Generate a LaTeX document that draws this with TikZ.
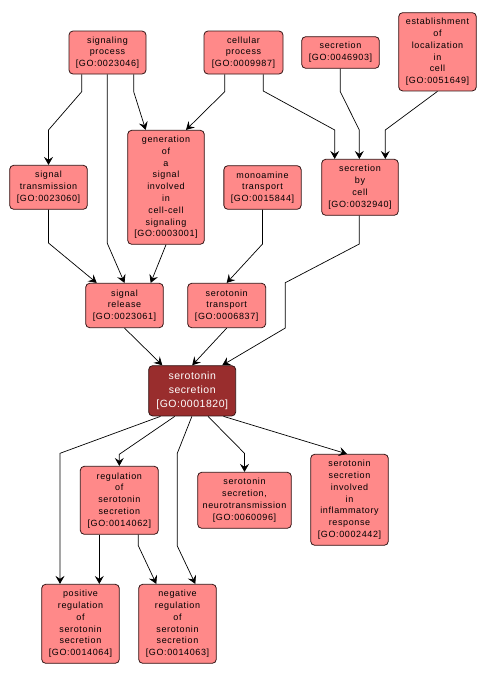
\documentclass[tikz,border=0pt]{standalone}
\usepackage{fontspec}
\setmainfont{Liberation Sans}[LetterSpace=7]
\newfontfamily\bigfont{Liberation Sans}[LetterSpace=5]
\usetikzlibrary{arrows.meta}
\definecolor{salmon}{RGB}{255,137,137}
\definecolor{darkred}{RGB}{153,45,45}
\definecolor{edgeline}{RGB}{50,20,20}
\tikzset{
  gobox/.style={draw=edgeline, line width=0.8pt, fill=salmon, rounded corners=4pt,
    inner sep=0pt, align=center, font=\fontsize{9}{11.8}\selectfont, text=black},
  mainbox/.style={gobox, fill=darkred, text=white, font=\bigfont\fontsize{10.5}{14.3}\selectfont},
  link/.style={draw=black, line width=0.7pt, -{Stealth[length=8pt,width=9pt,inset=3pt]}}
}
\begin{document}
\begin{tikzpicture}[x=1pt,y=-1pt]
\useasboundingbox[fill=white] (0,0) rectangle (487,678);
% nodes
\node[gobox, minimum width=77pt, minimum height=43pt] (sp) at (107.5,52.5) {signaling\\process\\{[GO:0023046]}};
\node[gobox, minimum width=79pt, minimum height=43pt] (cp) at (243.5,52.5) {cellular\\process\\{[GO:0009987]}};
\node[gobox, minimum width=77.6pt, minimum height=31.6pt] (sec) at (340.5,52.5) {secretion\\{[GO:0046903]}};
\node[gobox, minimum width=77.6pt, minimum height=78.3pt] (est) at (437.5,51.8) {establishment\\of\\localization\\in\\cell\\{[GO:0051649]}};
\node[gobox, minimum width=77.6pt, minimum height=44pt] (st) at (48.5,187.3) {signal\\transmission\\{[GO:0023060]}};
\node[gobox, minimum width=76.6pt, minimum height=114pt] (gen) at (166,187.3) {generation\\of\\a\\signal\\involved\\in\\cell-cell\\signaling\\{[GO:0003001]}};
\node[gobox, minimum width=77.3pt, minimum height=43.6pt] (mt) at (262.5,187.5) {monoamine\\transport\\{[GO:0015844]}};
\node[gobox, minimum width=76.6pt, minimum height=56pt] (sbc) at (360,187.3) {secretion\\by\\cell\\{[GO:0032940]}};
\node[gobox, minimum width=77.6pt, minimum height=44.4pt] (sr) at (124.5,305.5) {signal\\release\\{[GO:0023061]}};
\node[gobox, minimum width=78pt, minimum height=44.4pt] (stp) at (226.7,305.5) {serotonin\\transport\\{[GO:0006837]}};
\node[mainbox, minimum width=87pt, minimum height=50.3pt] (ss) at (192.2,390.8) {serotonin\\secretion\\{[GO:0001820]}};
\node[gobox, minimum width=78pt, minimum height=68pt] (reg) at (119.3,500.3) {regulation\\of\\serotonin\\secretion\\{[GO:0014062]}};
\node[gobox, minimum width=93.6pt, minimum height=56pt] (nt) at (244.5,500.3) {serotonin\\secretion,\\neurotransmission\\{[GO:0060096]}};
\node[gobox, minimum width=77.6pt, minimum height=91pt] (inf) at (349.5,499.8) {serotonin\\secretion\\involved\\in\\inflammatory\\response\\{[GO:0002442]}};
\node[gobox, minimum width=77.6pt, minimum height=79pt] (pos) at (80.5,623.8) {positive\\regulation\\of\\serotonin\\secretion\\{[GO:0014064]}};
\node[gobox, minimum width=77.6pt, minimum height=79pt] (neg) at (177.5,623.8) {negative\\regulation\\of\\serotonin\\secretion\\{[GO:0014063]}};
% bend coordinates
\coordinate (a1) at (81.7,91.7);  \coordinate (a2) at (48.5,130);
\coordinate (b1) at (107.3,243.3);
\coordinate (c1) at (133.7,91.7); \coordinate (c2) at (145.7,130);
\coordinate (d1) at (224.7,91.7); \coordinate (d2) at (186,130);
\coordinate (e1) at (263.3,91);   \coordinate (e2) at (334.7,130);
\coordinate (f1) at (340.3,91.7); \coordinate (f2) at (359.3,130);
\coordinate (g2) at (385.3,130);
\coordinate (h1) at (48.5,243);   \coordinate (h2) at (96.7,283);
\coordinate (i2) at (150.7,283);
\coordinate (j1) at (262.5,244);
\coordinate (k1) at (359.3,244);  \coordinate (k2) at (285.3,282.7);
\coordinate (k3) at (285.3,328);  \coordinate (k4) at (222.3,365);
\coordinate (l1) at (162.3,365);
\coordinate (n0) at (160.5,416);  \coordinate (n1) at (60,453.3);
\coordinate (o0) at (174.8,416);  \coordinate (o1) at (119.3,454.3);
\coordinate (p0) at (191.9,416);  \coordinate (p1) at (177.3,453.3);
\coordinate (p2) at (177.3,546);  \coordinate (p3) at (195.3,584);
\coordinate (q0) at (208,416);    \coordinate (q1) at (244.5,453.3);
\coordinate (r0) at (223.5,416);  \coordinate (r1) at (347,454);
\coordinate (s1) at (99.3,534);
\coordinate (t0) at (138.3,534);  \coordinate (t1) at (138.3,545.7);
\coordinate (t2) at (156.3,584);
% edges
\draw[link] (sp.south -| a1) -- (a1) -- (a2) -- (st.north);
\draw[link] (sp.south -| b1) -- (b1) -- (sr.north);
\draw[link] (sp.south -| c1) -- (c1) -- (gen.north -| c2);
\draw[link] (cp.south -| d1) -- (d1) -- (gen.north -| d2);
\draw[link] (cp.south -| e1) -- (e1) -- (e2) -- (sbc.north -| e2);
\draw[link] (sec.south -| f1) -- (f1) -- (f2) -- (sbc.north -| f2);
\draw[link] (est.south) -- (g2) -- (sbc.north -| g2);
\draw[link] (st.south) -- (h1) -- (sr.north -| h2);
\draw[link] (gen.south) -- (sr.north -| i2);
\draw[link] (mt.south) -- (j1) -- (stp.north);
\draw[link] (sbc.south -| k1) -- (k1) -- (k2) -- (k3) -- (ss.north -| k4);
\draw[link] (sr.south) -- (ss.north -| l1);
\draw[link] (stp.south) -- (ss.north);
\draw[link] (ss.south -| n0) -- (n1) -- (pos.north -| n1);
\draw[link] (ss.south -| o0) -- (o1) -- (reg.north);
\draw[link] (ss.south -| p0) -- (p1) -- (p2) -- (neg.north -| p3);
\draw[link] (ss.south -| q0) -- (q1) -- (nt.north);
\draw[link] (ss.south -| r0) -- (inf.north -| r1);
\draw[link] (reg.south -| s1) -- (pos.north -| s1);
\draw[link] (reg.south -| t0) -- (t1) -- (neg.north -| t2);
\end{tikzpicture}
\end{document}
